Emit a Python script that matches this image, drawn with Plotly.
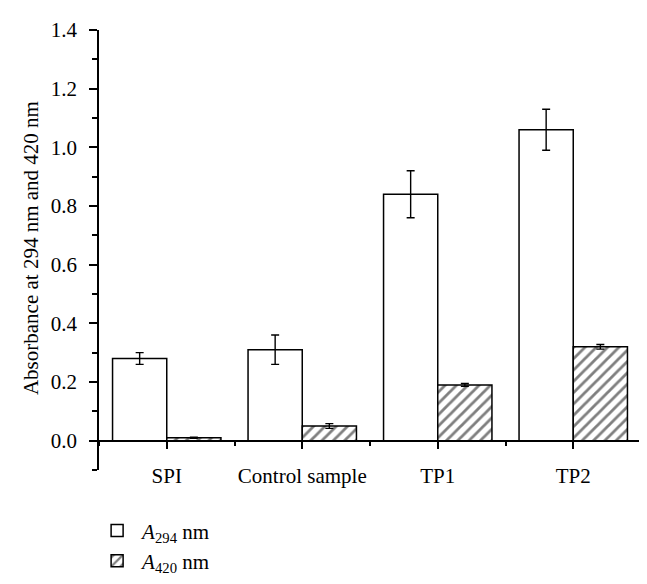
import plotly.graph_objects as go

categories = ["SPI", "Control sample", "TP1", "TP2"]
a294 = [0.28, 0.31, 0.84, 1.06]
a294_err = [0.02, 0.05, 0.08, 0.07]
a420 = [0.01, 0.05, 0.19, 0.32]
a420_err = [0.002, 0.008, 0.005, 0.008]
y_ticks = [0.0, 0.2, 0.4, 0.6, 0.8, 1.0, 1.2, 1.4]
y_title = "Absorbance at 294 nm and 420 nm"

xpos = list(range(len(categories)))
FONT = "Liberation Serif"

fig = go.Figure()
fig.add_trace(go.Bar(
    x=xpos, y=a294, name="<i>A</i><sub>294</sub> nm",
    marker=dict(color="white", line=dict(color="black", width=1.5)),
    error_y=dict(type="data", array=a294_err, color="black", thickness=1.4, width=4),
))
fig.add_trace(go.Bar(
    x=xpos, y=a420, name="<i>A</i><sub>420</sub> nm",
    marker=dict(color="white", line=dict(color="black", width=1.5),
                pattern=dict(shape="/", fgcolor="black", bgcolor="white", size=8, solidity=0.35)),
    error_y=dict(type="data", array=a420_err, color="black", thickness=1.4, width=4),
))

ymin, ymax = -0.1, 1.4
fig.update_layout(
    width=647, height=584,
    margin=dict(l=91, r=14, t=22, b=122, autoexpand=False),
    paper_bgcolor="white", plot_bgcolor="white",
    barmode="group", bargap=0.2, bargroupgap=0,
    font=dict(family=FONT, size=21, color="black"),
    showlegend=True,
    legend=dict(xref="container", yref="container", x=0.13, y=0.14,
                xanchor="left", yanchor="top", font=dict(size=21),
                bgcolor="rgba(0,0,0,0)", tracegroupgap=0, itemwidth=40),
    xaxis=dict(
        range=[-0.5, 3.5], tickvals=xpos, ticktext=categories,
        showline=True, linecolor="black", linewidth=1.5,
        anchor="free", position=(0 - ymin) / (ymax - ymin),
        ticks="outside", ticklen=8, tickwidth=1.5, tickcolor="black",
        ticklabelstandoff=8,
        minor=dict(tick0=0.5, dtick=1, ticks="outside", ticklen=5, tickwidth=1.5, tickcolor="black"),
        showgrid=False, zeroline=False,
    ),
    yaxis=dict(
        range=[ymin, ymax], tickvals=y_ticks, tickformat=".1f",
        showline=True, linecolor="black", linewidth=1.5,
        ticks="outside", ticklen=8, tickwidth=1.5, tickcolor="black",
        ticklabelstandoff=8,
        minor=dict(tick0=0, dtick=0.1, ticks="outside", ticklen=5, tickwidth=1.5, tickcolor="black"),
        showgrid=False, zeroline=False,
    ),
    annotations=[dict(
        text=y_title, textangle=-90, xref="paper", yref="paper",
        x=-0.125, y=0.505, xanchor="center", yanchor="middle",
        showarrow=False, font=dict(size=21),
    )],
)

fig.write_html("out.html")
